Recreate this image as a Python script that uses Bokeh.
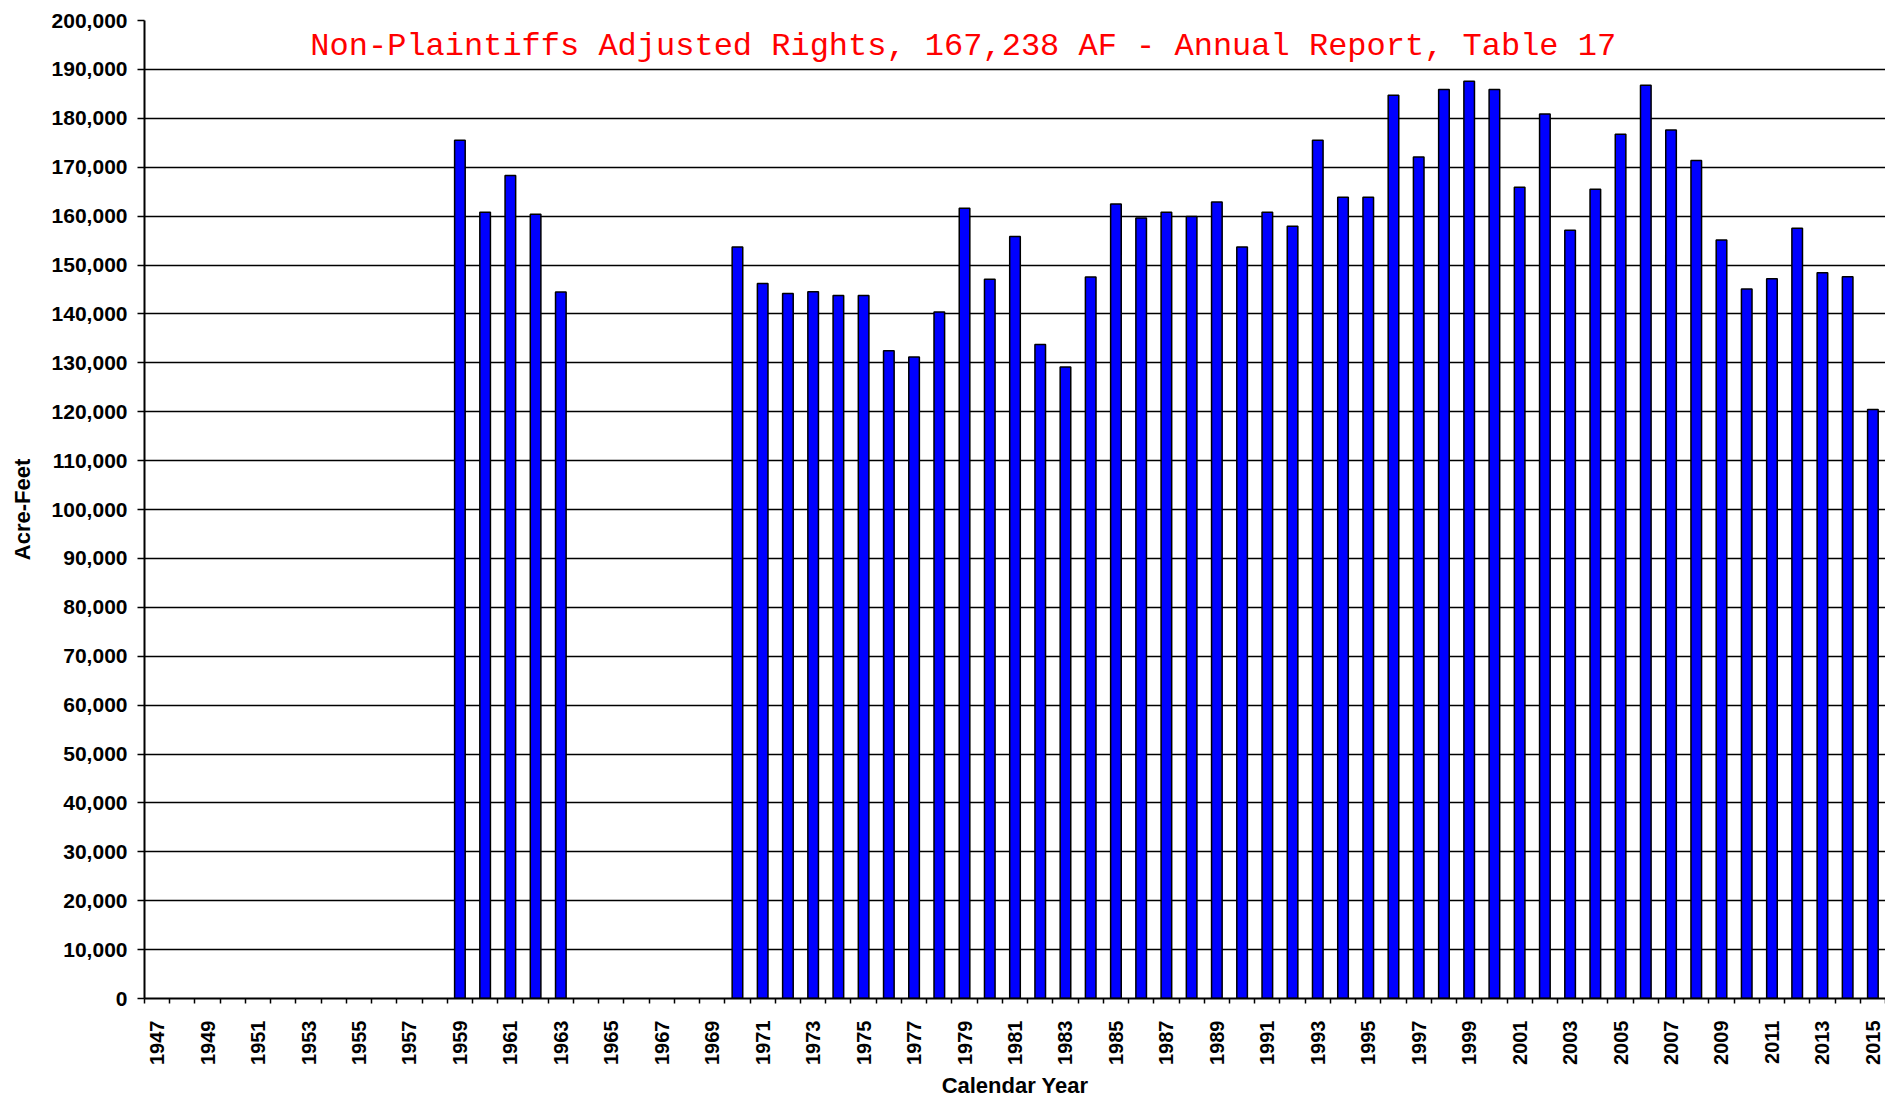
import math
from bokeh.plotting import figure
from bokeh.models import Range1d, FixedTicker, NumeralTickFormatter, Label
from bokeh.embed import file_html
from bokeh.resources import INLINE

# ---- data ----
bar_years = [1959, 1960, 1961, 1962, 1963,
             1970, 1971, 1972, 1973, 1974, 1975, 1976, 1977, 1978, 1979,
             1980, 1981, 1982, 1983, 1984, 1985, 1986, 1987, 1988, 1989,
             1990, 1991, 1992, 1993, 1994, 1995, 1996, 1997, 1998, 1999,
             2000, 2001, 2002, 2003, 2004, 2005, 2006, 2007, 2008, 2009,
             2010, 2011, 2012, 2013, 2014, 2015]
acre_feet = [175500, 160800, 168300, 160400, 144500,
             153700, 146200, 144150, 144550, 143750, 143750, 132450, 131200, 140400, 161600,
             147100, 155850, 133750, 129150, 147550, 162500, 159600, 160800, 159900, 162900,
             153700, 160800, 157900, 175500, 163850, 163850, 184700, 172100, 185900, 187600,
             185900, 165900, 180900, 157100, 165500, 176750, 186750, 177600, 171350, 155100,
             145100, 147200, 157500, 148400, 147600, 120450]

label_years = [1947, 1949, 1951, 1953, 1955, 1957, 1959, 1961, 1963, 1965, 1967, 1969,
               1971, 1973, 1975, 1977, 1979, 1981, 1983, 1985, 1987, 1989, 1991, 1993,
               1995, 1997, 1999, 2001, 2003, 2005, 2007, 2009, 2011, 2013, 2015]
first_year = 1947
last_year = 2015
y_ticks = [0, 10000, 20000, 30000, 40000, 50000, 60000, 70000, 80000, 90000, 100000,
           110000, 120000, 130000, 140000, 150000, 160000, 170000, 180000, 190000, 200000]

title_text = "Non-Plaintiffs Adjusted Rights, 167,238 AF - Annual Report, Table 17"

# ---- figure ----
p = figure(width=1885, height=1100, output_backend="svg", toolbar_location=None,
           x_range=Range1d(first_year - 0.5, last_year + 0.5),
           y_range=Range1d(0, 200000),
           min_border_left=144, min_border_right=0, min_border_top=20, min_border_bottom=101)
p.outline_line_color = None
p.background_fill_color = "white"
p.border_fill_color = "white"

p.vbar(x=bar_years, top=acre_feet, width=0.42, fill_color="#0000FF",
       line_color="black", line_width=1.5)

# grid
p.xgrid.grid_line_color = None
p.ygrid.grid_line_color = "black"
p.ygrid.grid_line_width = 1.5

# y axis
p.yaxis.ticker = FixedTicker(ticks=y_ticks)
p.yaxis.formatter = NumeralTickFormatter(format="0,0")
p.yaxis.axis_line_color = "black"
p.yaxis.axis_line_width = 2
p.yaxis.major_tick_line_color = "black"
p.yaxis.major_tick_line_width = 1.5
p.yaxis.major_tick_out = 7
p.yaxis.major_tick_in = 0
p.yaxis.minor_tick_line_color = None
p.yaxis.major_label_standoff = 10
p.yaxis.major_label_text_font = "Liberation Sans"
p.yaxis.major_label_text_font_style = "bold"
p.yaxis.major_label_text_font_size = "21px"
p.yaxis.major_label_text_color = "black"
p.yaxis.axis_label = "Acre-Feet"
p.yaxis.axis_label_text_font = "Liberation Sans"
p.yaxis.axis_label_text_font_style = "bold"
p.yaxis.axis_label_text_font_size = "22px"
p.yaxis.axis_label_text_color = "black"
p.yaxis.axis_label_standoff = 14

# x axis
boundaries = [y - 0.5 for y in range(first_year, last_year + 2)]
p.xaxis.ticker = FixedTicker(ticks=label_years, minor_ticks=boundaries)
p.xaxis.axis_line_color = "black"
p.xaxis.axis_line_width = 2
p.xaxis.major_tick_out = 0
p.xaxis.major_tick_in = 0
p.xaxis.major_tick_line_color = None
p.xaxis.minor_tick_line_color = "black"
p.xaxis.minor_tick_line_width = 1.5
p.xaxis.minor_tick_out = 5
p.xaxis.minor_tick_in = 0
p.xaxis.major_label_orientation = math.pi / 2
p.xaxis.major_label_standoff = 17
p.xaxis.major_label_text_font = "Liberation Sans"
p.xaxis.major_label_text_font_style = "bold"
p.xaxis.major_label_text_font_size = "20px"
p.xaxis.major_label_text_color = "black"
p.xaxis.axis_label = "Calendar Year"
p.xaxis.axis_label_text_font = "Liberation Sans"
p.xaxis.axis_label_text_font_style = "bold"
p.xaxis.axis_label_text_font_size = "22px"
p.xaxis.axis_label_text_color = "black"
p.xaxis.axis_label_standoff = 5

# in-plot title
p.add_layout(Label(x=1978.95, y=194700, text=title_text,
                   text_font="Liberation Mono", text_font_size="32px",
                   text_color="#FF0000", text_align="center",
                   text_baseline="alphabetic"))

open("out.html", "w").write(file_html(p, INLINE))
